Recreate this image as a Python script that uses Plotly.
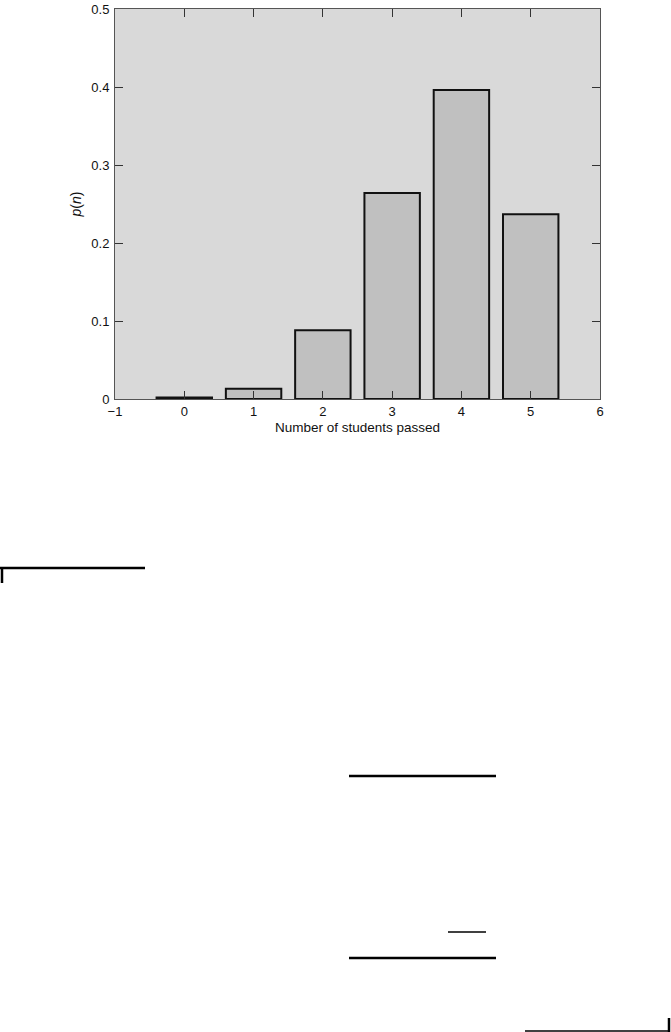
import plotly.graph_objects as go

# Data
students_passed = [0, 1, 2, 3, 4, 5]
probability = [0.002, 0.013, 0.088, 0.264, 0.396, 0.237]
x_ticks = [-1, 0, 1, 2, 3, 4, 5, 6]
x_tick_labels = ["\u22121", "0", "1", "2", "3", "4", "5", "6"]
y_ticks = [0, 0.1, 0.2, 0.3, 0.4, 0.5]
y_tick_labels = ["0", "0.1", "0.2", "0.3", "0.4", "0.5"]

W, H = 671, 1032
L, R, T, B = 115, 600, 9, 399  # plot area in page pixels

FONT = "Liberation Sans, Arial, sans-serif"

fig = go.Figure()
fig.add_trace(go.Bar(
    x=students_passed, y=probability, width=0.8,
    marker=dict(color="#c0c0c0", line=dict(color="#111111", width=2)),
))

axis_common = dict(
    showgrid=False, zeroline=False, showline=True, linecolor="#555555", linewidth=1,
    ticks="inside", ticklen=8, tickcolor="#333333", tickwidth=1, mirror="ticks",
    tickfont=dict(family=FONT, size=13, color="#111111"), automargin=False,
    ticklabeloverflow="allow",
)

fig.update_layout(
    width=W, height=H,
    margin=dict(l=L, r=W - R, t=T, b=H - B, autoexpand=False),
    paper_bgcolor="white", plot_bgcolor="#d9d9d9",
    showlegend=False,
    xaxis=dict(range=[-1, 6], tickmode="array", tickvals=x_ticks, ticktext=x_tick_labels,
               title=dict(text="Number of students passed", standoff=4,
                          font=dict(family=FONT, size=13.5, color="#111111")),
               **axis_common),
    yaxis=dict(range=[0, 0.5], tickmode="array", tickvals=y_ticks, ticktext=y_tick_labels,
               ticklabelstandoff=2,
               title=dict(text="<i>p</i>(<i>n</i>)", standoff=6,
                          font=dict(family=FONT, size=14, color="#111111")),
               **axis_common),
)

# Decorative stray rules from the scanned page (page pixels -> paper coords)
def px(x):
    return (x - L) / (R - L)

def py(y):
    return (B - y) / (B - T)

segments = [
    (0, 568, 145, 568, 2.5),
    (2, 567, 2, 583, 2.5),
    (349, 776, 496, 776, 2.5),
    (448, 932, 486, 932, 1.5),
    (349, 958, 496, 958, 2.5),
    (525, 1031, 670, 1031, 1.5),
    (669, 1018, 669, 1032, 2.5),
]
for x0, y0, x1, y1, w in segments:
    fig.add_shape(type="line", xref="paper", yref="paper",
                  x0=px(x0), y0=py(y0), x1=px(x1), y1=py(y1),
                  line=dict(color="black", width=w))

fig.write_html("out.html",
               config={"displayModeBar": False},
               post_script="document.body.style.margin='0';document.body.style.overflow='hidden';")
